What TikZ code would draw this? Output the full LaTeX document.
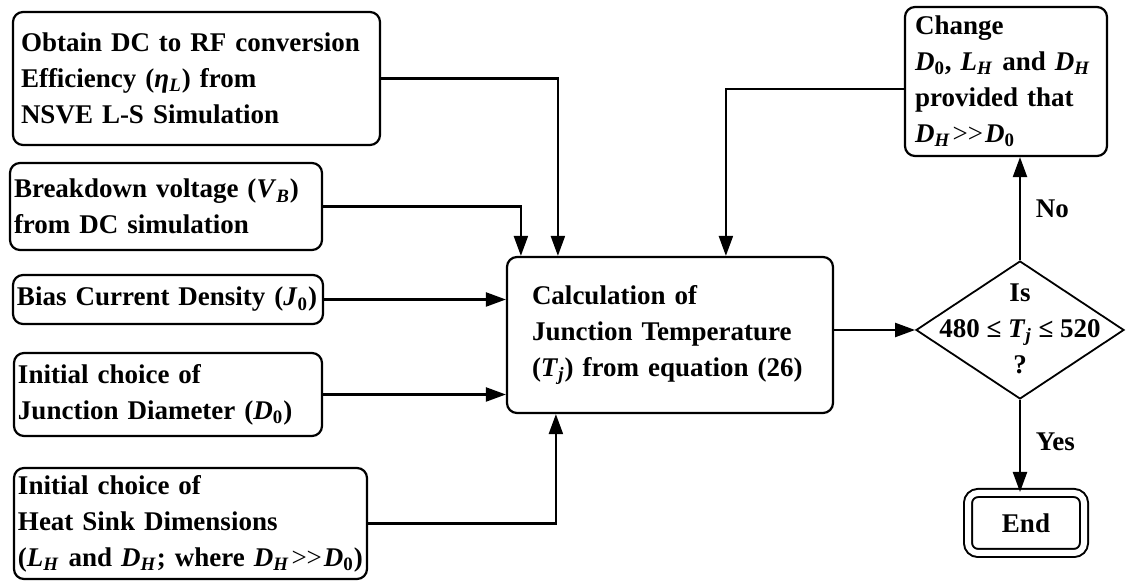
\documentclass[tikz,border=0pt]{standalone}
\usepackage{fontspec}
\setmainfont{Liberation Serif}
\usetikzlibrary{arrows.meta,shapes.geometric,calc}
\newcommand{\symb}[2]{\textit{#1}\textsubscript{\textit{#2}}}
\newcommand{\dzero}{\textit{D}\textsubscript{0}}
\newcommand{\muchgt}{{\mdseries\kern1pt>{}>\kern1pt}}
\begin{document}
\begin{tikzpicture}[x=0.5pt,y=-0.5pt,font=\fontsize{13.5}{18}\selectfont\bfseries,
    box/.style={draw,line width=1.1pt,rounded corners=5pt,align=left,inner xsep=2pt,inner ysep=0pt},
    arr/.style={line width=1.1pt,-{Triangle[length=10pt,width=7pt]}}]
  \useasboundingbox (0,0) rectangle (1126,581);
  % inputs
  \node[box,inner xsep=4pt,text width=175.5pt,minimum height=66.5pt] (eff) at (196.5,78.5) {Obtain DC to RF conversion\\Efficiency (\symb{η}{L}) from\\NSVE L-S Simulation};
  \node[box,text width=152pt,minimum height=43.5pt] (vb) at (166,206.5) {Breakdown voltage (\symb{V}{B})\\from DC simulation};
  \node[box,text width=151pt,minimum height=24.5pt] (j0) at (168,299.5) {Bias Current Density (\textit{J}\textsubscript{0})};
  \node[box,text width=150pt,minimum height=41.5pt] (d0) at (168,394.5) {Initial choice of\\Junction Diameter (\dzero)};
  \node[box,text width=172.5pt,minimum height=55.5pt] (sink) at (190.5,523.5) {Initial choice of\\Heat Sink Dimensions\\(\symb{L}{H} and \symb{D}{H}; where \symb{D}{H}\muchgt\dzero)};
  % calculation and loop
  \node[box,inner xsep=12.5pt,text width=138pt,minimum height=78pt] (calc) at (670,335) {Calculation of\\Junction Temperature\\(\symb{T}{j}) from equation (26)};
  \node[box,inner xsep=5pt,text width=91pt,minimum height=74.5pt] (chg) at (1006,81.5) {Change\\\dzero, \symb{L}{H} and \symb{D}{H}\\provided that\\\symb{D}{H}\muchgt\dzero};
  \node[diamond,draw,line width=0.9pt,inner sep=0pt,minimum width=104pt,minimum height=69pt] (dec) at (1020,330) {};
  \node[align=center] (dectxt) at (1020,329) {Is\\480 ≤ \symb{T}{j} ≤ 520\\?};
  \node[draw,line width=1pt,double,double distance=3pt,rounded corners=5pt,minimum width=58pt,minimum height=30pt] (endbox) at (1026,523) {End};
  % connectors
  \draw[arr] (eff.east) -| ($(calc.north west)+(52,0)$);
  \draw[arr] (vb.east) -| ($(calc.north west)+(15,0)$);
  \draw[arr] (j0.east) -- (j0.east -| calc.west);
  \draw[arr] (d0.east) -- (d0.east -| calc.west);
  \draw[arr] (sink.east) -| ($(calc.south west)+(50,0)$);
  \draw[arr] ($(chg.west)+(0,7.5)$) -| ($(calc.north west)+(220,0)$);
  \draw[arr] (calc.east |- dec.west) -- (dec.west);
  \draw[arr] (dec.north) -- node[right=4pt]{No} (dec.north |- chg.south);
  \draw[arr] (dec.south) -- node[right=4pt,pos=0.45]{Yes} (dec.south |- endbox.north);
\end{tikzpicture}
\end{document}
